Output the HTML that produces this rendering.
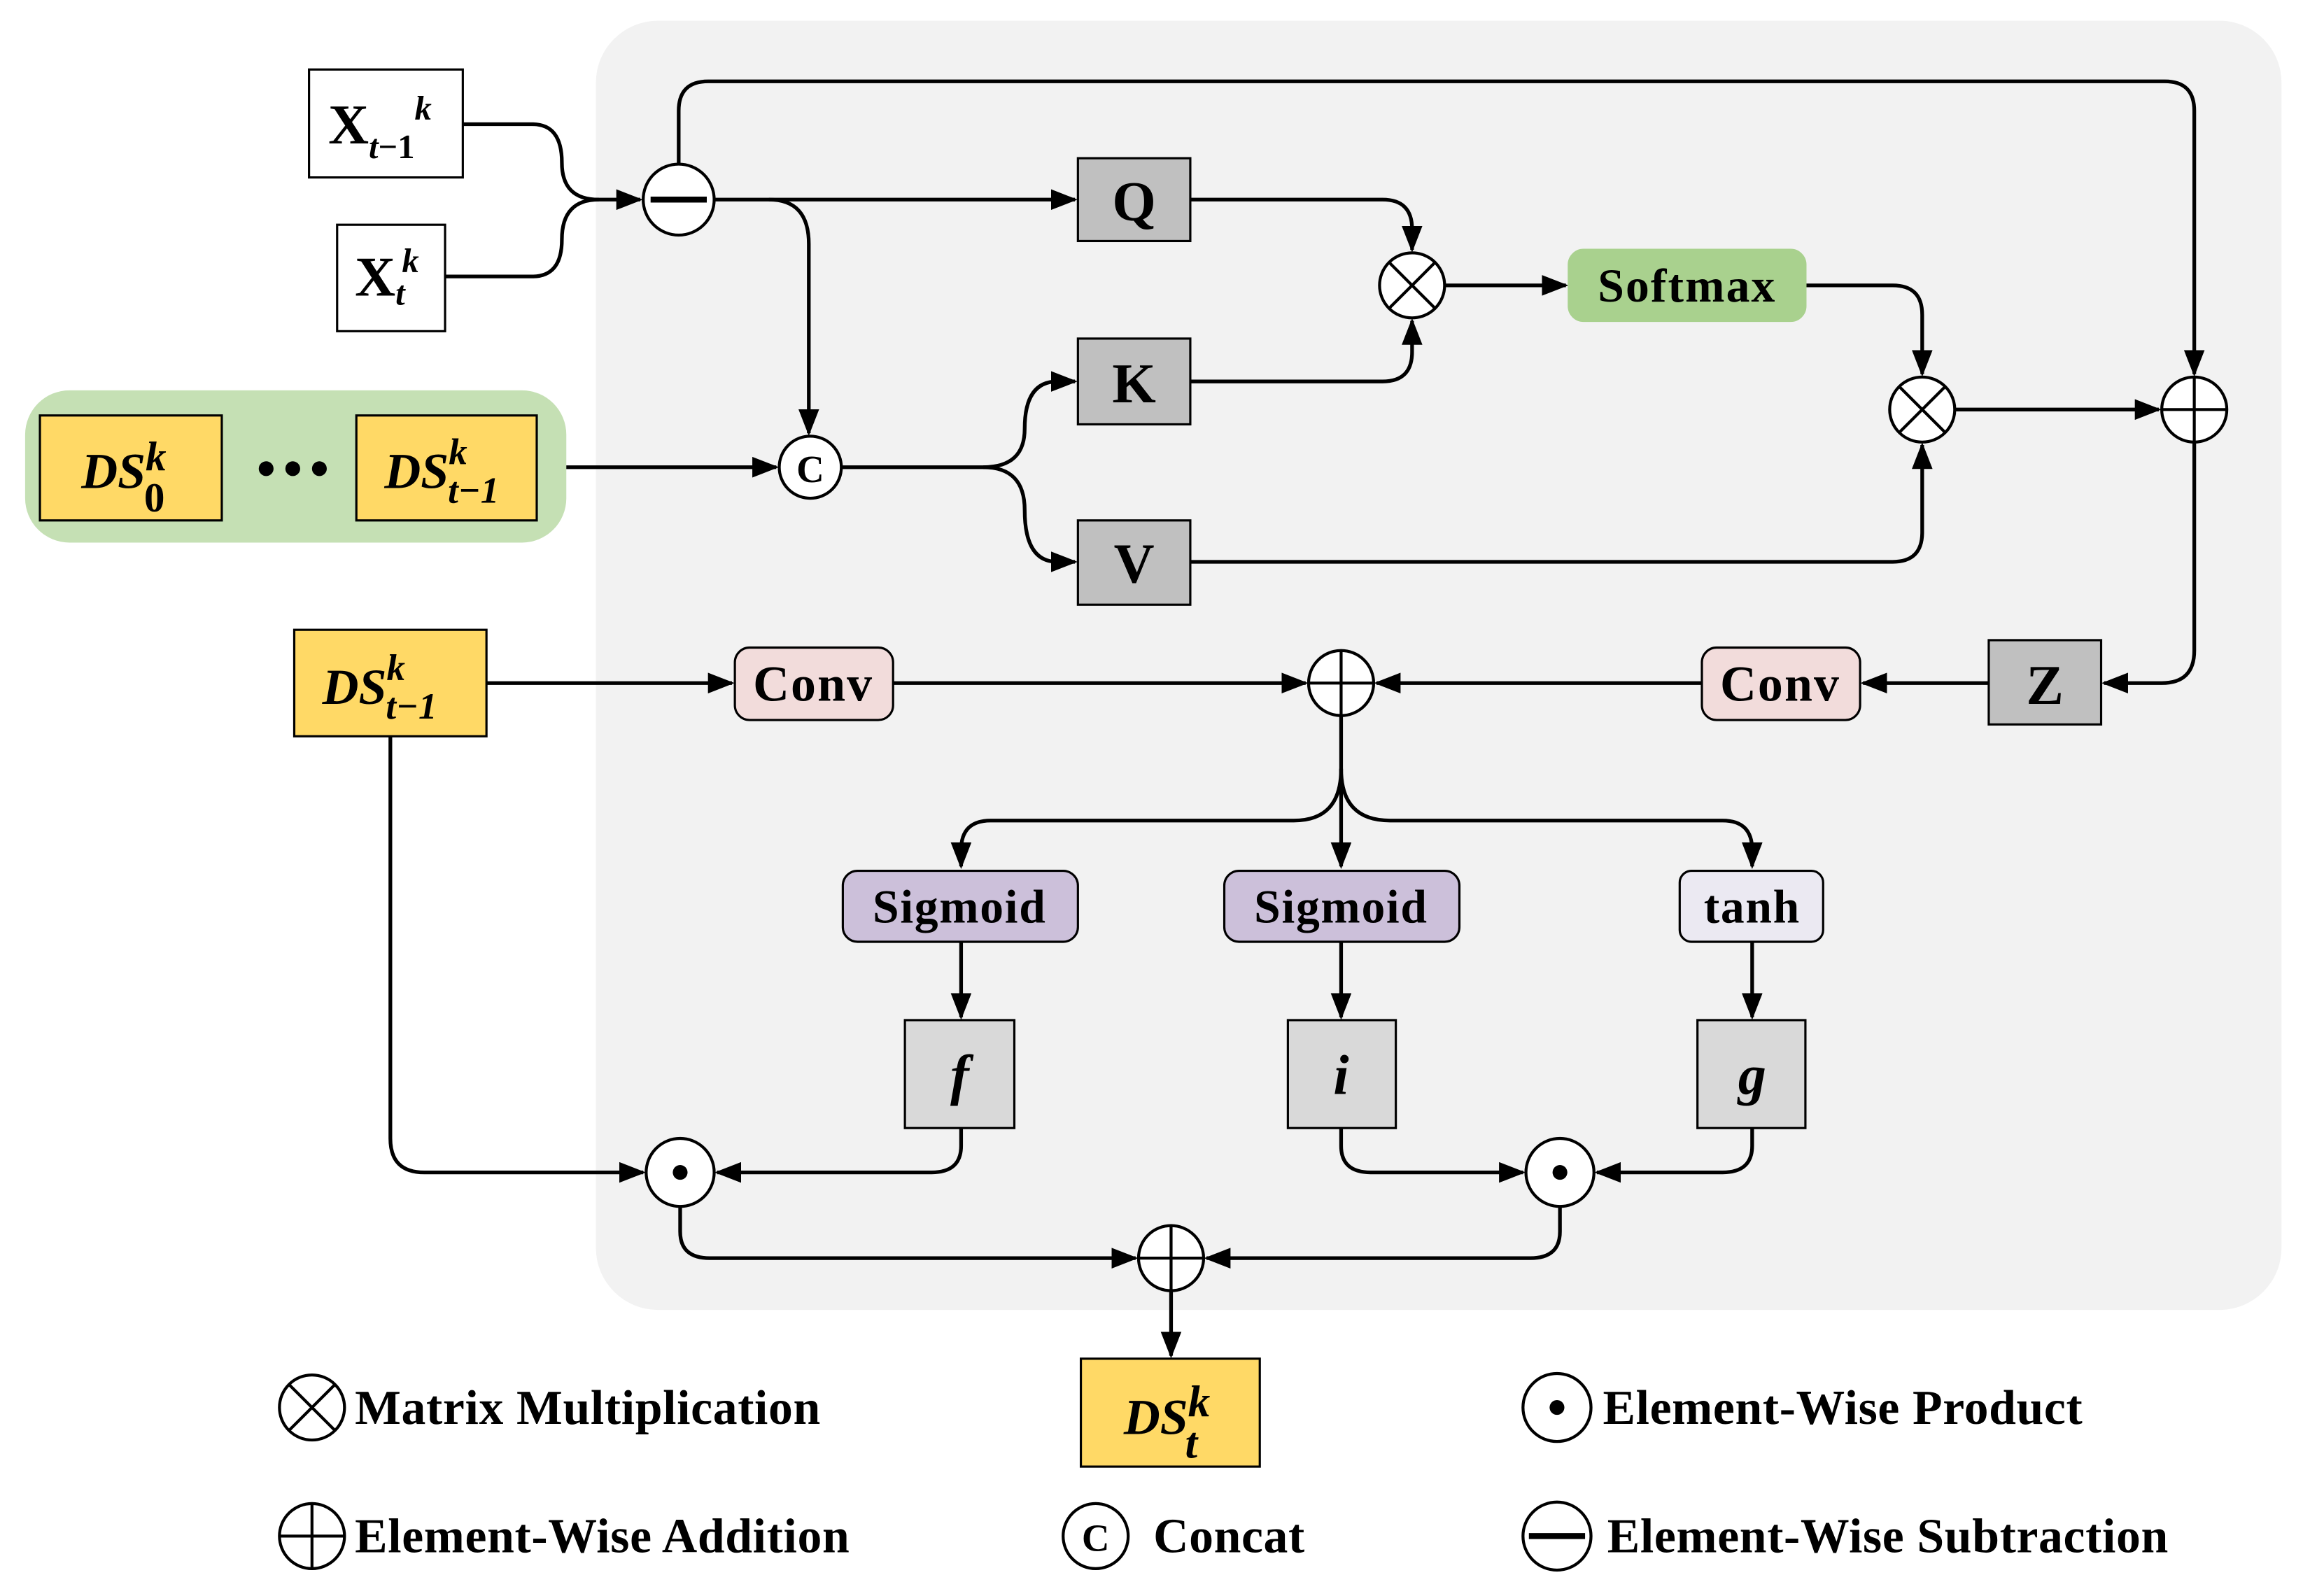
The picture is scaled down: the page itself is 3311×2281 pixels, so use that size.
<!DOCTYPE html>
<html><head><meta charset="utf-8"><style>
html,body{margin:0;padding:0;background:#fff}
svg{display:block}
text{font-family:"Liberation Serif",serif;font-weight:bold;fill:#000}
.lg{font-size:33px;letter-spacing:0.3px}
</style></head><body>
<svg width="3311" height="2281" viewBox="0 0 1567 1079.5" xmlns="http://www.w3.org/2000/svg">
<defs>
<marker id="b" viewBox="0 0 10 10" refX="9" refY="5" markerWidth="18" markerHeight="14" markerUnits="userSpaceOnUse" orient="auto" preserveAspectRatio="none">
<path d="M0,0 L10,5 L0,10 z" fill="#000"/></marker>
</defs>
<rect x="403" y="14" width="1140" height="872" rx="42" fill="#f2f2f2"/>
<rect x="17" y="264" width="366" height="103" rx="30" fill="#c5e0b4"/>

<g fill="none" stroke="#000" stroke-width="2.5">
<path d="M313,84 H360 Q380,84 380,110 Q380,135 405,135 H433" marker-end="url(#b)"/>
<path d="M301,187 H360 Q380,187 380,162 Q380,135 405,135"/>
<path d="M459,111 V75 Q459,55 479,55 H1464 Q1484,55 1484,75 V253" marker-end="url(#b)"/>
<path d="M483,135 H727" marker-end="url(#b)"/>
<path d="M520,135 Q547,135 547,165 V293" marker-end="url(#b)"/>
<path d="M383,316 H525" marker-end="url(#b)"/>
<path d="M569,316 H665 Q693,316 693,290 Q693,258 715,258 H727" marker-end="url(#b)"/>
<path d="M665,316 Q693,316 693,345 Q693,380 715,380 H727" marker-end="url(#b)"/>
<path d="M805,135 H935 Q955,135 955,155 V169" marker-end="url(#b)"/>
<path d="M805,258 H935 Q955,258 955,238 V217" marker-end="url(#b)"/>
<path d="M977,193 H1059" marker-end="url(#b)"/>
<path d="M1221,193 H1280 Q1300,193 1300,213 V253" marker-end="url(#b)"/>
<path d="M805,380 H1280 Q1300,380 1300,360 V301" marker-end="url(#b)"/>
<path d="M1322,277 H1460" marker-end="url(#b)"/>
<path d="M1484,299 V440 Q1484,462 1462,462 H1423" marker-end="url(#b)"/>
<path d="M1345,462 H1260" marker-end="url(#b)"/>
<path d="M1151,462 H931" marker-end="url(#b)"/>
<path d="M329,462 H495" marker-end="url(#b)"/>
<path d="M604,462 H883" marker-end="url(#b)"/>
<path d="M907,484 V586" marker-end="url(#b)"/>
<path d="M907,520 Q907,555 875,555 H670 Q650,555 650,575 V586" marker-end="url(#b)"/>
<path d="M907,520 Q907,555 940,555 H1165 Q1185,555 1185,575 V586" marker-end="url(#b)"/>
<path d="M650,637 V688" marker-end="url(#b)"/>
<path d="M907,637 V688" marker-end="url(#b)"/>
<path d="M1185,637 V688" marker-end="url(#b)"/>
<path d="M264,498 V770 Q264,793 287,793 H435" marker-end="url(#b)"/>
<path d="M650,763 V775 Q650,793 630,793 H485" marker-end="url(#b)"/>
<path d="M907,763 V775 Q907,793 927,793 H1030" marker-end="url(#b)"/>
<path d="M1185,763 V775 Q1185,793 1165,793 H1080" marker-end="url(#b)"/>
<path d="M460,816 V833 Q460,851 480,851 H768" marker-end="url(#b)"/>
<path d="M1055,816 V833 Q1055,851 1035,851 H816" marker-end="url(#b)"/>
<path d="M792,873 V917" marker-end="url(#b)"/>
</g>

<g stroke="#000" stroke-width="1.5">
<rect x="209" y="47" width="104" height="73" fill="#fff"/>
<rect x="228" y="152" width="73" height="72" fill="#fff"/>
<rect x="27" y="281" width="123" height="71" fill="#ffd966"/>
<rect x="241" y="281" width="122" height="71" fill="#ffd966"/>
<rect x="729" y="107" width="76" height="56" fill="#c0c0c0"/>
<rect x="729" y="229" width="76" height="58" fill="#c0c0c0"/>
<rect x="729" y="352" width="76" height="57" fill="#c0c0c0"/>
<rect x="1061" y="169" width="160" height="48" rx="10" fill="#a9d18e" stroke="#a9d18e"/>
<rect x="1345" y="433" width="76" height="57" fill="#c0c0c0"/>
<rect x="1151" y="438" width="107" height="49" rx="10" fill="#f2dcdb"/>
<rect x="497" y="438" width="107" height="49" rx="10" fill="#f2dcdb"/>
<rect x="199" y="426" width="130" height="72" fill="#ffd966"/>
<rect x="570" y="589" width="159" height="48" rx="10" fill="#ccc0da"/>
<rect x="828" y="589" width="159" height="48" rx="10" fill="#ccc0da"/>
<rect x="1136" y="589" width="97" height="48" rx="8" fill="#ebe9f2"/>
<rect x="612" y="690" width="74" height="73" fill="#d9d9d9"/>
<rect x="871" y="690" width="73" height="73" fill="#d9d9d9"/>
<rect x="1148" y="690" width="73" height="73" fill="#d9d9d9"/>
<rect x="731" y="919" width="121" height="73" fill="#ffd966"/>
</g>

<g fill="#fff" stroke="#000" stroke-width="2">
<circle cx="459" cy="135" r="24"/>
<circle cx="548" cy="316" r="21"/>
<circle cx="955" cy="193" r="22"/>
<circle cx="1300" cy="277" r="22"/>
<circle cx="1484" cy="277" r="22"/>
<circle cx="907" cy="462" r="22"/>
<circle cx="460" cy="793" r="23"/>
<circle cx="1055" cy="793" r="23"/>
<circle cx="792" cy="851" r="22"/>
<circle cx="211" cy="952" r="22"/>
<circle cx="211" cy="1039" r="22"/>
<circle cx="741" cy="1039" r="22"/>
<circle cx="1053" cy="952" r="23"/>
<circle cx="1053" cy="1039" r="23"/>
</g>
<g stroke="#000" stroke-width="2" fill="none">
<path d="M440,135 H478" stroke-width="4"/>
<path d="M1034,1039 H1072" stroke-width="4"/>
<path d="M939.4,177.4 L970.6,208.6 M970.6,177.4 L939.4,208.6"/>
<path d="M1284.4,261.4 L1315.6,292.6 M1315.6,261.4 L1284.4,292.6"/>
<path d="M195.4,936.4 L226.6,967.6 M226.6,936.4 L195.4,967.6"/>
<path d="M1462,277 H1506 M1484,255 V299"/>
<path d="M885,462 H929 M907,440 V484"/>
<path d="M770,851 H814 M792,829 V873"/>
<path d="M189,1039 H233 M211,1017 V1061"/>
</g>
<g fill="#000">
<circle cx="460" cy="793" r="5"/><circle cx="1055" cy="793" r="5"/><circle cx="1053" cy="952" r="5"/>
<circle cx="180" cy="317" r="5"/><circle cx="198" cy="317" r="5"/><circle cx="216" cy="317" r="5"/>
</g>
<text x="548" y="326" font-size="26" text-anchor="middle">C</text>
<text x="741" y="1049" font-size="26" text-anchor="middle">C</text>

<text x="222" y="97" font-size="38">X<tspan font-size="23" font-style="italic" dy="10">t</tspan><tspan font-size="23" dy="0">−1</tspan><tspan font-size="23" font-style="italic" dy="-26">k</tspan></text>
<text x="240" y="200" font-size="38">X<tspan font-size="23" font-style="italic" dy="6">t</tspan><tspan font-size="23" font-style="italic" dy="-22" dx="-2">k</tspan></text>
<text x="55" y="330" font-size="34" font-style="italic">DS<tspan font-size="28" dy="-12">k</tspan><tspan font-size="28" font-style="normal" dx="-15" dy="28">0</tspan></text>
<text x="260" y="330" font-size="34" font-style="italic">DS<tspan font-size="25" dy="-16">k</tspan><tspan font-size="25" dx="-13" dy="26">t−1</tspan></text>
<text x="218" y="476" font-size="34" font-style="italic">DS<tspan font-size="25" dy="-16">k</tspan><tspan font-size="25" dx="-13" dy="26">t−1</tspan></text>
<text x="760" y="970" font-size="34" font-style="italic">DS<tspan font-size="30" dy="-12">k</tspan><tspan font-size="30" dx="-17" dy="28">t</tspan></text>
<text x="767" y="149" font-size="38" text-anchor="middle">Q</text>
<text x="767" y="272" font-size="38" text-anchor="middle">K</text>
<text x="767" y="394" font-size="38" text-anchor="middle">V</text>
<text x="1383" y="476" font-size="38" text-anchor="middle">Z</text>
<text x="1141" y="204" font-size="32" letter-spacing="1" text-anchor="middle">Softmax</text>
<text x="1204" y="474" font-size="34" letter-spacing="1" text-anchor="middle">Conv</text>
<text x="550" y="474" font-size="34" letter-spacing="1" text-anchor="middle">Conv</text>
<text x="649" y="624" font-size="32" letter-spacing="0.8" text-anchor="middle">Sigmoid</text>
<text x="907" y="624" font-size="32" letter-spacing="0.8" text-anchor="middle">Sigmoid</text>
<text x="1185" y="624" font-size="32" letter-spacing="0.8" text-anchor="middle">tanh</text>
<text x="649" y="740" font-size="38" font-style="italic" text-anchor="middle">f</text>
<text x="907" y="740" font-size="38" font-style="italic" text-anchor="middle">i</text>
<text x="1185" y="740" font-size="38" font-style="italic" text-anchor="middle">g</text>
<text x="240" y="963" class="lg">Matrix Multiplication</text>
<text x="240" y="1050" class="lg">Element-Wise Addition</text>
<text x="780" y="1050" class="lg">Concat</text>
<text x="1084" y="963" class="lg">Element-Wise Product</text>
<text x="1087" y="1050" class="lg">Element-Wise Subtraction</text>
</svg>
</body></html>
